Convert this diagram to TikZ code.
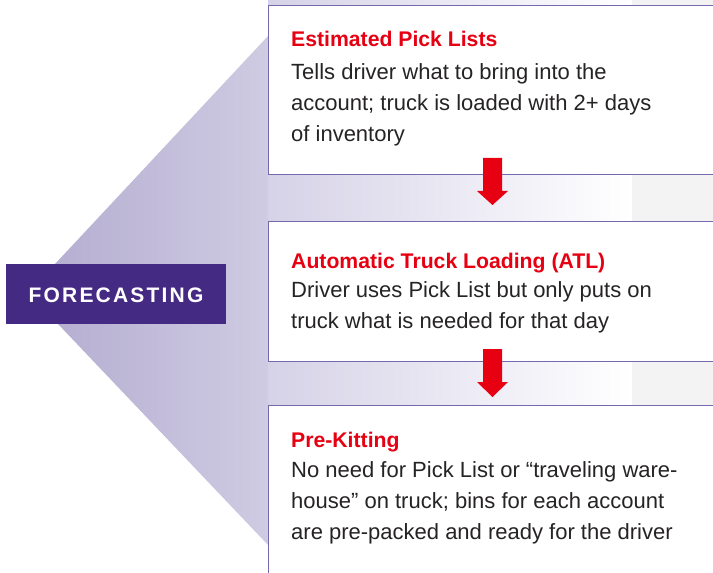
\documentclass[tikz,border=0pt]{standalone}
\usepackage{fontspec}
\setmainfont{Liberation Sans}
\newfontfamily\fcfont[LetterSpace=10.5]{Liberation Sans Bold}
\definecolor{fcpurple}{HTML}{452A84}
\definecolor{fanL}{HTML}{B6AFD2}
\definecolor{fanR}{HTML}{CFCBE2}
\definecolor{bandL}{HTML}{D6D2E7}
\definecolor{bandG}{HTML}{F3F3F4}
\definecolor{boxline}{HTML}{7469AE}
\definecolor{titlered}{HTML}{E60012}
\definecolor{bodygrey}{HTML}{262324}
\tikzset{
  stepcard/.style={draw=boxline, line width=1bp, fill=white},
  cardtitle/.style={anchor=base west, inner sep=0pt, text=titlered, font=\fontsize{21.2bp}{31bp}\selectfont\bfseries},
  cardbody/.style={anchor=base west, inner sep=0pt, text=bodygrey, align=left, font=\fontsize{22bp}{31bp}\selectfont},
  downarrow/.style={fill=titlered, draw=none},
}
\begin{document}
\begin{tikzpicture}[x=1bp,y=-1bp]
\useasboundingbox (0,0) rectangle (713,573);
\clip (0,0) rectangle (713,573);
% background band
\shade[left color=bandL, right color=white] (268,0) rectangle (632,573);
\fill[bandG] (632,0) rectangle (713,573);
% fan
\shade[left color=fanL, right color=fanR] (55,264) -- (268,36) -- (268,545) -- (58,324) -- cycle;
% cards
\node[stepcard, minimum width=460bp, minimum height=169bp, anchor=north west, inner sep=0pt] (card1) at (268,5) {};
\node[stepcard, minimum width=460bp, minimum height=140bp, anchor=north west, inner sep=0pt] (card2) at (268,221) {};
\node[stepcard, minimum width=460bp, minimum height=190bp, anchor=north west, inner sep=0pt] (card3) at (268,405) {};
% arrows
\coordinate (a1) at (492.5,158);
\coordinate (a2) at (492.5,349);
\fill[downarrow] (a1) ++(-9.5,0) -- ++(19,0) -- ++(0,33) -- ++(6,0) -- ++(-15.5,14) -- ++(-15.5,-14) -- ++(6,0) -- cycle;
\fill[downarrow] (a2) ++(-9.5,0) -- ++(19,0) -- ++(0,33) -- ++(6,0) -- ++(-15.5,15) -- ++(-15.5,-15) -- ++(6,0) -- cycle;
% forecasting box
\node[fill=fcpurple, minimum width=220bp, minimum height=60bp, inner sep=0pt, anchor=north west] (fc) at (6,264) {};
\node[anchor=base, inner sep=0pt, text=white, font=\fontsize{21bp}{21bp}\fcfont] (fclabel) at (116,302) {FORECASTING};
% texts (body nodes anchored at the baseline of their last line)
\node[cardtitle] (t1) at (291,47) {Estimated Pick Lists};
\node[cardbody] (b1) at (291,142) {Tells driver what to bring into the\\account; truck is loaded with 2+ days\\of inventory};
\node[cardtitle] (t2) at (291,268) {Automatic Truck Loading (ATL)};
\node[cardbody] (b2) at (291,328) {Driver uses Pick List but only puts on\\truck what is needed for that day};
\node[cardtitle] (t3) at (291,447) {Pre-Kitting};
\node[cardbody] (b3) at (291,539) {No need for Pick List or “traveling ware-\\house” on truck; bins for each account\\are pre-packed and ready for the driver};
\end{tikzpicture}
\end{document}
